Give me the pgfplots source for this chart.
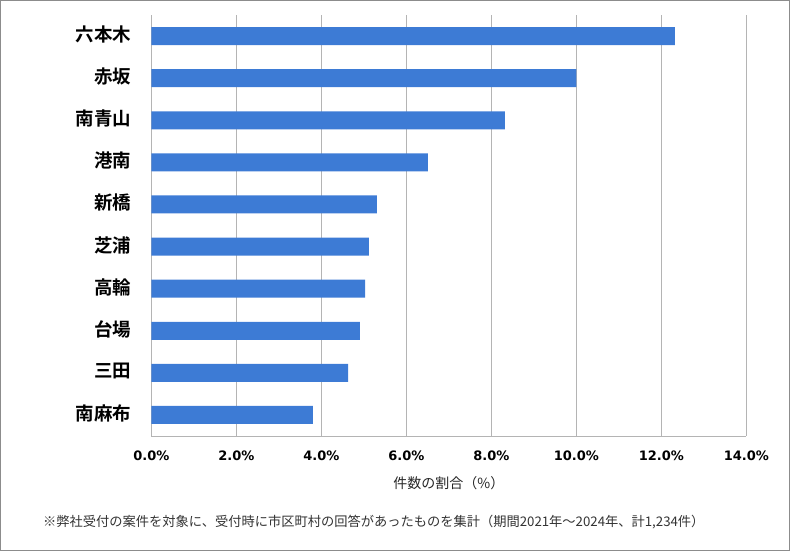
\documentclass[border=0pt]{standalone}
\usepackage{fontspec}
\usepackage{pgfplots}
\pgfplotsset{compat=1.18}
\setmainfont{Noto Sans CJK JP}
\newfontfamily\cjkbold{Noto Sans CJK JP Bold}
\newfontfamily\tickfont{DejaVu Sans}
\definecolor{barblue}{HTML}{3D7BD5}
\definecolor{gridgray}{HTML}{B4B4B4}
\definecolor{framegray}{HTML}{8C8C8C}

\begin{document}
\begin{tikzpicture}
  \useasboundingbox (0,0) rectangle (790bp,551bp);
  \draw[framegray, line width=1bp] (0.5bp,0.5bp) rectangle (789.5bp,550.5bp);
  \begin{axis}[
    at={(151.3bp,115bp)}, anchor=south west,
    scale only axis,
    width=595bp, height=421bp,
    xbar, bar width=18bp,
    xmin=0, xmax=14,
    ymin=-0.5, ymax=9.5,
    y dir=reverse,
    xtick={0,2,...,14},
    ytick={0,...,9},
    yticklabels={六本木,赤坂,南青山,港南,新橋,芝浦,高輪,台場,三田,南麻布},
    xticklabel={\pgfmathprintnumber[fixed,fixed zerofill,precision=1]{\tick}\%},
    /pgf/number format/assume math mode=true,
    xticklabel style={font=\tickfont\bfseries\fontsize{13bp}{15bp}\selectfont, anchor=north, inner sep=0pt, yshift=-15bp},
    yticklabel style={font=\cjkbold\fontsize{18.5bp}{20bp}\selectfont, anchor=east, inner sep=0pt, xshift=-20bp, yshift=1.5bp},
    major tick length=0pt,
    xmajorgrids, grid style={gridgray, line width=0.8bp},
    axis x line*=bottom, axis y line*=left,
    axis line style={gridgray, line width=0.8bp, -},
    xlabel={件数の割合（\%）},
    x label style={at={(axis description cs:0.5,0)}, anchor=north, inner sep=0pt, yshift=-40bp, font=\fontsize{14bp}{16bp}\selectfont, text=black!85},
  ]
    \addplot[fill=barblue, draw=none] coordinates {
      (12.32,0) (10.00,1) (8.32,2) (6.51,3) (5.31,4)
      (5.12,5) (5.03,6) (4.91,7) (4.63,8) (3.80,9)
    };
  \end{axis}
  \node[anchor=west, inner sep=0pt, text=black!80, font=\fontsize{13.25bp}{15bp}\selectfont] at (43bp,29bp)
    {※弊社受付の案件を対象に、受付時に市区町村の回答があったものを集計（期間2021年～2024年、計1,234件）};
\end{tikzpicture}
\end{document}
